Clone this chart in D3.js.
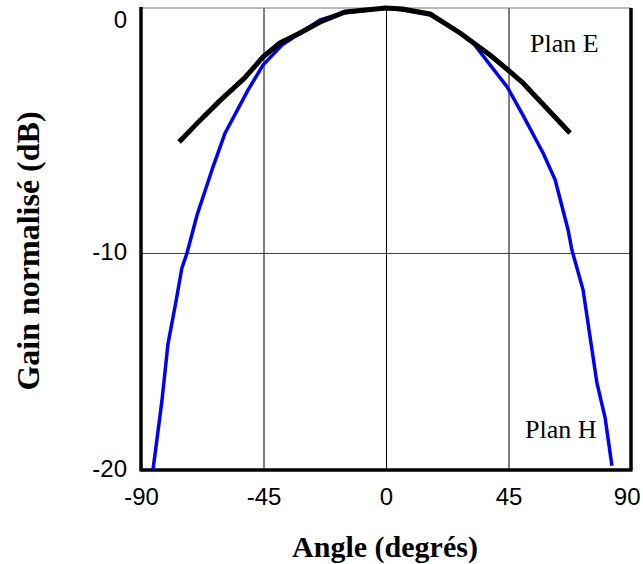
<!DOCTYPE html>
<html>
<head>
<meta charset="utf-8">
<script src="https://cdn.jsdelivr.net/npm/d3@7"></script>
<style>
  html, body { margin: 0; padding: 0; background: #fff; }
  svg { display: block; }
</style>
</head>
<body>
<svg id="chart" width="643" height="564"></svg>
<script>
// Radiation pattern, normalised gain versus angle
const angleTicks = [-90, -45, 0, 45, 90];
const gainTicks = [-20, -10, 0];

// Plan H (blue)
const planHAngle = [-85.6, -82.3, -80.1, -77.1, -75, -73.1, -69.4, -63.9, -59.1, -50.7, -45.2, -38.2, -31.6, -24.2, -15.8, 0, 6.2, 16.2, 27.2, 32, 44.5, 50.3, 57.7, 62.1, 66.9, 68.3, 72.4, 77.5, 80.5, 83];
const planHGain  = [-20.0, -16.8, -14.2, -12.2, -10.7, -10.0, -8.45, -6.6, -5.1, -3.35, -2.33, -1.51, -1.02, -0.49, -0.2, 0, -0.08, -0.29, -1.02, -1.43, -3.22, -4.37, -5.92, -7.0, -9.06, -9.88, -11.7, -16.0, -17.6, -19.8];

// Plan E (black)
const planEAngle = [-76, -69.5, -61, -52, -45.2, -39, -31.6, -24.2, -15, 0, 6, 16.2, 27.2, 38.2, 44.8, 50.3, 67.6];
const planEGain  = [-5.47, -4.72, -3.78, -2.86, -2.0, -1.43, -1.02, -0.57, -0.16, 0, -0.04, -0.24, -1.02, -1.92, -2.53, -3.06, -5.1];

const W = 643;
const svg = d3.select("#chart");
const plot = { left: 141, right: 631, top: 8, bottom: 470 };

const x = d3.scaleLinear().domain([-90, 90]).range([plot.left, plot.right]);
// the gain axis is laid out in two linear segments
const y = d3.scaleLinear().domain([-20, -10, 0]).range([plot.bottom, 253, plot.top]);

// grid lines
const gridX = svg.append("g")
  .attr("transform", `translate(0,${plot.bottom})`)
  .call(d3.axisBottom(x).tickValues(angleTicks.slice(1, -1)).tickSize(-(plot.bottom - plot.top)).tickFormat(""));
gridX.select(".domain").remove();
gridX.selectAll("line").attr("stroke", "#000").attr("stroke-width", 1);

const gridY = svg.append("g")
  .attr("transform", `translate(${plot.left},0)`)
  .call(d3.axisLeft(y).tickValues([-10]).tickSize(-(plot.right - plot.left)).tickFormat(""));
gridY.select(".domain").remove();
gridY.selectAll("line").attr("stroke", "#444").attr("stroke-width", 1);

// frame: thin top edge, heavy left / bottom / right edges
svg.append("line")
  .attr("x1", x(-90)).attr("x2", x(90)).attr("y1", y(0)).attr("y2", y(0))
  .attr("stroke", "#777").attr("stroke-width", 1.2);
svg.append("line")
  .attr("x1", x(90)).attr("x2", x(90)).attr("y1", y(0)).attr("y2", y(-20))
  .attr("stroke", "#000").attr("stroke-width", 3.5);
svg.append("line")
  .attr("x1", x(-90)).attr("x2", x(-90)).attr("y1", y(0) - 1).attr("y2", y(-20) + 1.5)
  .attr("stroke", "#000").attr("stroke-width", 3.5);
svg.append("line")
  .attr("x1", x(-90)).attr("x2", x(90) + 1.5).attr("y1", y(-20)).attr("y2", y(-20))
  .attr("stroke", "#000").attr("stroke-width", 3.5);

// curves
const line = d3.line().x(d => x(d[0])).y(d => y(d[1]));
const planH = planHAngle.map((a, i) => [a, planHGain[i]]);
const planE = planEAngle.map((a, i) => [a, planEGain[i]]);

svg.append("path").datum(planH)
  .attr("d", line).attr("fill", "none")
  .attr("stroke", "#0000ff").attr("stroke-width", 3.5).attr("stroke-linejoin", "round");
svg.append("path").datum(planE)
  .attr("d", line).attr("fill", "none")
  .attr("stroke", "#000").attr("stroke-width", 5).attr("stroke-linejoin", "round");

// axis labels
const tickFont = "'Liberation Sans', Arial, sans-serif";
const plainNumber = d => String(d);
const xAxis = svg.append("g")
  .attr("transform", `translate(0,${plot.bottom})`)
  .call(d3.axisBottom(x).tickValues(angleTicks).tickSize(0).tickPadding(18).tickFormat(plainNumber));
xAxis.select(".domain").remove();
xAxis.selectAll("text")
  .attr("font-family", tickFont).attr("font-size", 24).attr("fill", "#000")
  .each(function (d) {
    // keep the outermost label inside the page
    const half = this.getComputedTextLength() / 2;
    const overflow = x(d) + half - (W - 3);
    if (overflow > 0) d3.select(this).attr("x", -overflow);
  });

const minLabelY = 21;
const yAxis = svg.append("g")
  .attr("transform", `translate(${plot.left},0)`)
  .call(d3.axisLeft(y).tickValues(gainTicks).tickSize(0).tickPadding(14).tickFormat(plainNumber));
yAxis.select(".domain").remove();
yAxis.selectAll("text")
  .attr("font-family", tickFont).attr("font-size", 24).attr("fill", "#000")
  .attr("y", d => Math.max(0, minLabelY - y(d)))
  .attr("dy", "0.25em");

// titles
const titleFont = "'Liberation Serif', 'Times New Roman', serif";
svg.append("text")
  .attr("x", 385).attr("y", 557)
  .attr("text-anchor", "middle")
  .attr("font-family", titleFont).attr("font-weight", "bold").attr("font-size", 30)
  .text("Angle (degrés)");

svg.append("text")
  .attr("transform", `translate(39,${(plot.top + plot.bottom) / 2 + 12}) rotate(-90)`)
  .attr("text-anchor", "middle")
  .attr("font-family", titleFont).attr("font-weight", "bold").attr("font-size", 32)
  .text("Gain normalisé (dB)");

// series labels
svg.append("text")
  .attr("x", 530).attr("y", 52)
  .attr("font-family", titleFont).attr("font-size", 26)
  .text("Plan E");
svg.append("text")
  .attr("x", 525).attr("y", 438)
  .attr("font-family", titleFont).attr("font-size", 26)
  .text("Plan H");
</script>
</body>
</html>
